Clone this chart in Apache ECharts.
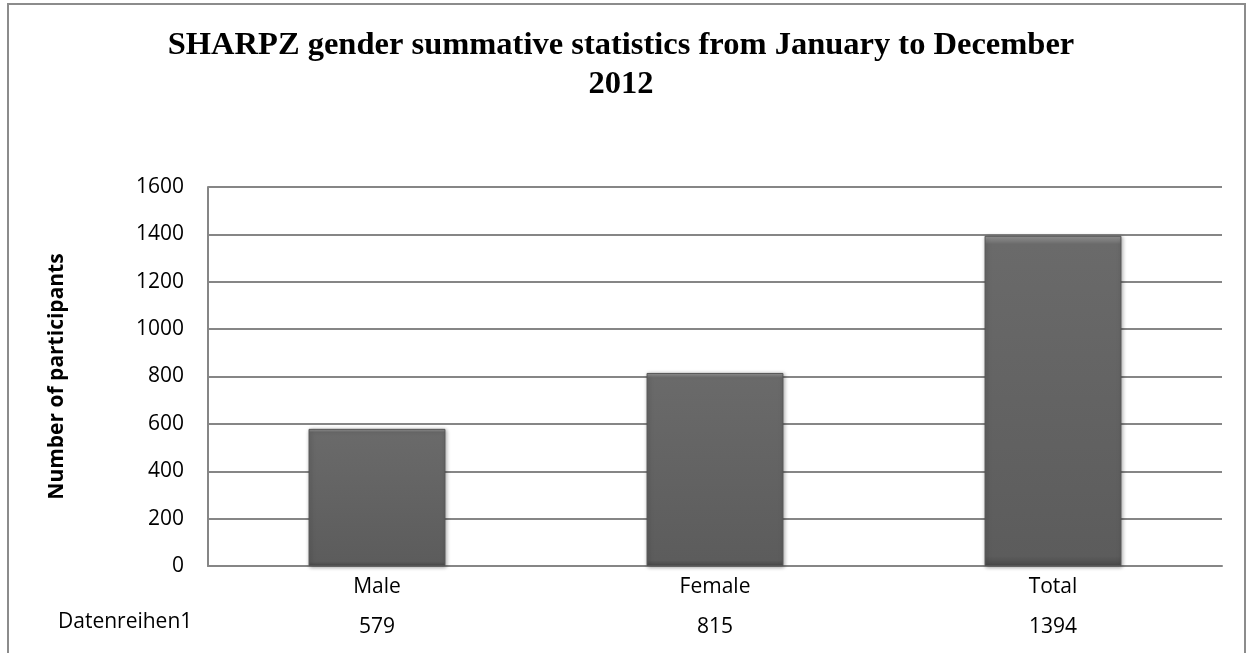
<!DOCTYPE html>
<html><head><meta charset="utf-8">
<script src="https://cdn.jsdelivr.net/npm/echarts@6/dist/echarts.min.js"></script>
<style>html,body{margin:0;padding:0;background:#fff}#c{width:1248px;height:653px}</style>
</head><body><div id="c"></div>
<script>
const categories = ['Male', 'Female', 'Total'];
const values = [579, 815, 1394];
const seriesName = 'Datenreihen1';
const titleText = 'SHARPZ gender summative statistics from January to December\n2012';
const yAxisName = 'Number of participants';

const FONT = '"Open Sans", "Liberation Sans", sans-serif';
const chart = echarts.init(document.getElementById('c'));
chart.setOption({
  animation: false,
  graphic: [
    {type: 'rect', shape: {x: 8, y: 4, width: 1237, height: 660}, style: {fill: 'none', stroke: '#8c8c8c', lineWidth: 2}, z: -1},
    {type: 'text', left: 58, top: 612, style: {text: seriesName, font: '21px ' + FONT, fill: '#000'}}
  ],
  title: {
    text: titleText, left: 616, textAlign: 'center', top: 21,
    textStyle: {fontFamily: '"Liberation Serif", serif', fontWeight: 'bold', fontSize: 32.5, lineHeight: 39, color: '#000'}
  },
  grid: {left: 208, top: 187, right: 26, bottom: 87},
  xAxis: {
    type: 'category', data: categories,
    axisLine: {lineStyle: {color: '#868686', width: 2}},
    axisTick: {show: false},
    axisLabel: {
      margin: 1,
      formatter: function (v, i) { return '{a|' + v + '}\n{b|' + values[i] + '}'; },
      rich: {
        a: {fontFamily: FONT, fontSize: 21, color: '#000', lineHeight: 40},
        b: {fontFamily: FONT, fontSize: 21, color: '#000', lineHeight: 40}
      }
    }
  },
  yAxis: {
    type: 'value', min: 0, max: 1600, interval: 200,
    name: yAxisName, nameLocation: 'middle', nameGap: 140, nameRotate: 90,
    nameTextStyle: {fontFamily: FONT, fontWeight: 'bold', fontSize: 21, color: '#000'},
    axisLine: {show: true, lineStyle: {color: '#868686', width: 2}},
    axisTick: {show: false},
    axisLabel: {margin: 24, fontFamily: FONT, fontSize: 21, color: '#000', formatter: function (v) { return String(v); }},
    splitLine: {lineStyle: {color: '#868686', width: 2}}
  },
  series: [{
    name: seriesName, type: 'bar', data: values, barWidth: '40.5%',
    itemStyle: {
      color: new echarts.graphic.LinearGradient(0, 0, 0, 1, [
        {offset: 0, color: '#9a9a9a'}, {offset: 0.025, color: '#6a6a6a'}, {offset: 0.97, color: '#5c5c5c'}, {offset: 1, color: '#4a4a4a'}
      ]),
      borderColor: '#555', borderWidth: 1,
      shadowColor: 'rgba(0,0,0,0.35)', shadowBlur: 4, shadowOffsetX: 1, shadowOffsetY: 1
    }
  }]
});
</script></body></html>
